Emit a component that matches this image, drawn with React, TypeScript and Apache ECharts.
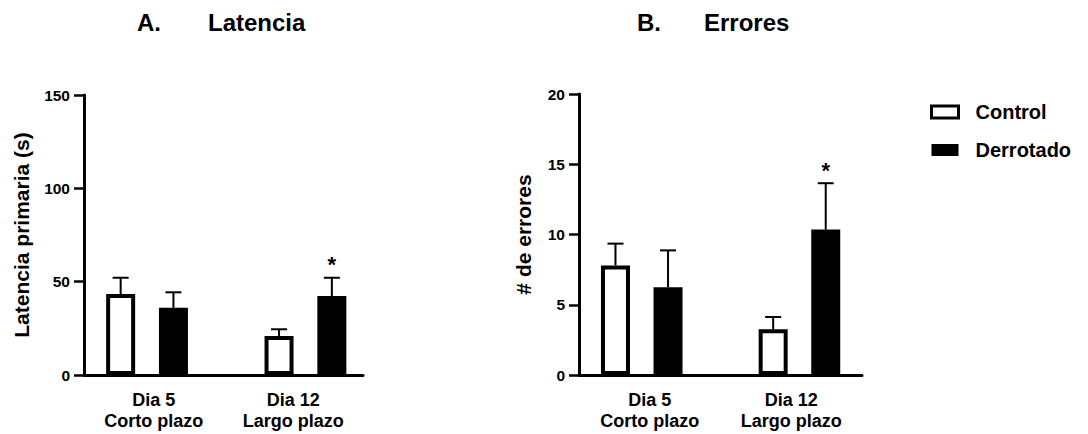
import React, { useEffect, useRef } from "react";
import * as echarts from "echarts";

const categories = ["Dia 5\nCorto plazo", "Dia 12\nLargo plazo"];
const groups = ["Control", "Derrotado"];

// A. Latencia (s)
const latControl = [43.4, 20.9];
const latControlSem = [8.7, 3.6];
const latDerrotado = [36.0, 42.3];
const latDerrotadoSem = [8.3, 9.8];
const latSig = ["", "*"];

// B. Errores
const errControl = [7.8, 3.25];
const errControlSem = [1.55, 0.88];
const errDerrotado = [6.25, 10.35];
const errDerrotadoSem = [2.62, 3.3];
const errSig = ["", "*"];

const latTicks = { min: 0, max: 150, interval: 50 };
const errTicks = { min: 0, max: 20, interval: 5 };

const FONT = "'Liberation Sans', Arial, Helvetica, sans-serif";

// slot on the x value-axis: group i, series s -> i*3 + s (empty slot between groups)
const slot = (i: number, s: number) => i * 3 + s;

function barData(vals: number[], s: number) {
  return vals.map((v, i) => [slot(i, s), v]);
}
function errData(vals: number[], sem: number[], s: number, sig?: string[]) {
  return vals.map((v, i) => [slot(i, s), v, sem[i], sig ? sig[i] : ""]);
}

const renderErr = (params: any, api: any) => {
  const x = api.value(0);
  const y = api.value(1);
  const e = api.value(2);
  const sig = api.value(3);
  const p0 = api.coord([x, y]);
  const p1 = api.coord([x, y + e]);
  const children: any[] = [
    {
      type: "line",
      shape: { x1: p0[0], y1: p0[1], x2: p1[0], y2: p1[1] },
      style: { stroke: "#000", lineWidth: 2 },
    },
    {
      type: "line",
      shape: { x1: p1[0] - 8, y1: p1[1], x2: p1[0] + 8, y2: p1[1] },
      style: { stroke: "#000", lineWidth: 2 },
    },
  ];
  if (sig && sig !== "" && sig !== "-") {
    children.push({
      type: "text",
      x: p1[0],
      y: p1[1] - 13,
      style: {
        text: String(sig),
        fontSize: 22,
        fontWeight: "bold",
        fontFamily: FONT,
        fill: "#000",
        align: "center",
        verticalAlign: "middle",
      },
    });
  }
  return { type: "group", children };
};

export default function App() {
  const ref = useRef<HTMLDivElement>(null);

  useEffect(() => {
    if (!ref.current) return;
    const chart = echarts.init(ref.current, undefined, { renderer: "svg" });

    const valueX = (gridIndex: number, max: number) => ({
      type: "value",
      gridIndex,
      min: -0.694,
      max,
      axisLine: { show: true, onZero: false, lineStyle: { color: "#000", width: 3 } },
      axisTick: { show: false },
      axisLabel: { show: false },
      splitLine: { show: false },
    });
    const catX = (gridIndex: number) => ({
      type: "category",
      gridIndex,
      data: categories,
      position: "bottom",
      axisLine: { show: false },
      axisTick: { show: false },
      splitLine: { show: false },
      axisLabel: {
        margin: 14,
        color: "#000",
        fontSize: 18,
        fontWeight: "bold",
        fontFamily: FONT,
        lineHeight: 21,
      },
    });
    const yAx = (gridIndex: number, t: any, name: string, gap: number) => ({
      type: "value",
      gridIndex,
      min: t.min,
      max: t.max,
      interval: t.interval,
      name,
      nameLocation: "middle",
      nameGap: gap,
      nameTextStyle: { color: "#000", fontSize: 21, fontWeight: "bold", fontFamily: FONT },
      axisLine: { show: true, onZero: false, lineStyle: { color: "#000", width: 3 } },
      axisTick: { show: true, length: 10, lineStyle: { color: "#000", width: 2.5 } },
      axisLabel: { color: "#000", fontSize: 15.5, fontWeight: "bold", fontFamily: FONT, margin: 14 },
      splitLine: { show: false },
    });

    const barSeries = (name: string, data: number[], s: number, xi: number, yi: number) => ({
      type: "bar",
      name,
      xAxisIndex: xi,
      yAxisIndex: yi,
      data: barData(data, s),
      barWidth: 29,
      barGap: "-100%",
      z: 3,
      itemStyle: {
        color: s === 0 ? "#fff" : "#000",
        borderColor: "#000",
        borderWidth: 4,
      },
    });
    const errSeries = (name: string, v: number[], sem: number[], s: number, xi: number, yi: number, sig?: string[]) => ({
      type: "custom",
      name,
      xAxisIndex: xi,
      yAxisIndex: yi,
      data: errData(v, sem, s, sig),
      renderItem: renderErr,
      z: 2,
      encode: { x: 0, y: 1 },
    });

    const titleText = (text: string, x: number) => ({
      type: "text",
      x,
      y: 22,
      style: {
        text,
        fontSize: 24,
        fontWeight: "bold",
        fontFamily: FONT,
        fill: "#000",
        verticalAlign: "middle",
      },
    });

    chart.setOption({
      animation: false,
      backgroundColor: "#fff",
      grid: [
        { left: 84, top: 95, width: 279, height: 280 },
        { left: 579, top: 94, width: 283, height: 281 },
      ],
      xAxis: [valueX(0, 4.59), catX(0), valueX(1, 4.69), catX(1)],
      yAxis: [
        yAx(0, latTicks, "Latencia primaria (s)", 52),
        yAx(1, errTicks, "# de errores", 45),
      ],
      legend: {
        data: [
          { name: groups[0], itemStyle: { color: "#fff", borderColor: "#000", borderWidth: 3 } },
          { name: groups[1], itemStyle: { color: "#000", borderColor: "#000", borderWidth: 0 } },
        ],
        orient: "vertical",
        left: 925,
        top: 97,
        itemWidth: 27,
        itemHeight: 12,
        itemGap: 18,
        icon: "rect",
        textStyle: {
          color: "#000",
          fontSize: 20,
          fontWeight: "bold",
          fontFamily: FONT,
          padding: [0, 0, 0, 12],
        },
      },
      graphic: [
        titleText("A.", 137),
        titleText("Latencia", 208),
        titleText("B.", 637),
        titleText("Errores", 704),
      ],
      series: [
        errSeries("latC_err", latControl, latControlSem, 0, 0, 0),
        errSeries("latD_err", latDerrotado, latDerrotadoSem, 1, 0, 0, latSig),
        barSeries(groups[0], latControl, 0, 0, 0),
        barSeries(groups[1], latDerrotado, 1, 0, 0),
        errSeries("errC_err", errControl, errControlSem, 0, 2, 1),
        errSeries("errD_err", errDerrotado, errDerrotadoSem, 1, 2, 1, errSig),
        barSeries(groups[0], errControl, 0, 2, 1),
        barSeries(groups[1], errDerrotado, 1, 2, 1),
      ],
    });

    return () => chart.dispose();
  }, []);

  return (
    <div
      ref={ref}
      style={{ position: "absolute", left: 0, top: 0, width: 1088, height: 434 }}
    />
  );
}
